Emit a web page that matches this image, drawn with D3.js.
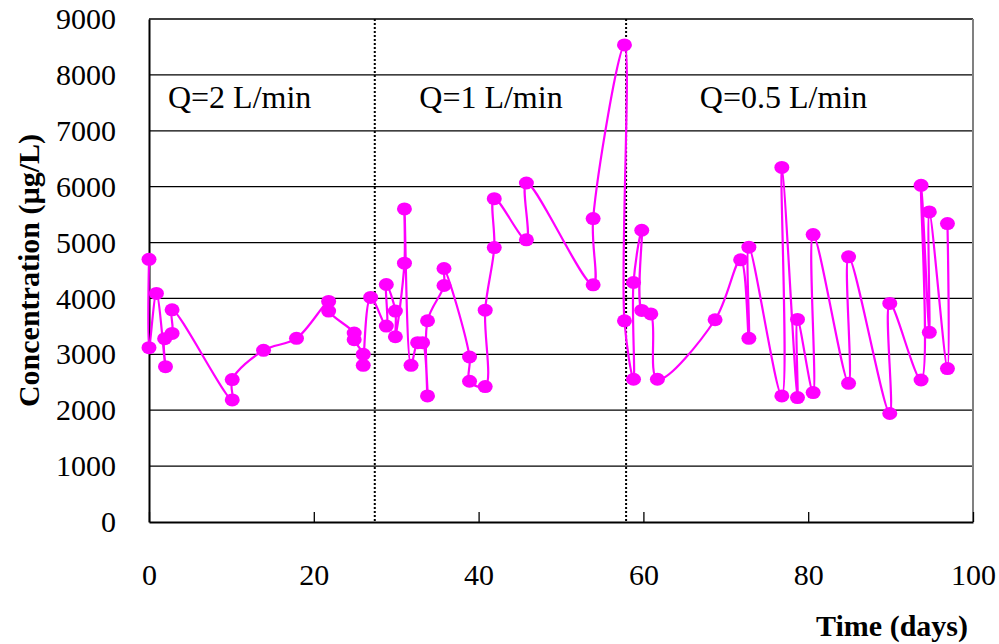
<!DOCTYPE html>
<html>
<head>
<meta charset="utf-8">
<script src="https://cdn.jsdelivr.net/npm/d3@7"></script>
<style>
  body { margin: 0; background: #fff; }
</style>
</head>
<body>
<svg id="chart" width="999" height="644"></svg>
<script>
// sample times (days) and concentrations (ug/L), in the order the line passes through them
const days = [
  0, 0, 0.9, 2, 1.9, 2.8, 2.8, 10.1, 10.1, 13.9, 17.9, 21.8, 21.8, 24.9, 24.9, 26, 26, 26.9,
  28.8, 28.8, 29.9, 29.9, 31, 31, 31.8, 32.6, 33.2, 33.8, 33.8, 35.8, 35.8, 38.9, 38.9, 40.8, 40.8,
  41.9, 41.9, 45.8, 45.8, 53.9, 53.9, 57.7,
  57.7, 58.8, 58.8, 59.8, 59.8, 60.9, 61.7, 68.7, 71.8, 72.8, 72.8, 76.8, 76.8, 78.7, 78.7,
  80.6, 80.6, 84.9, 84.9, 89.9, 89.9, 93.7, 93.7, 94.7, 94.7, 96.9, 96.9
];
const conc = [
  4700, 3120, 4090, 2780, 3280, 3375, 3797, 2184, 2548, 3071, 3286, 3946, 3774, 3380, 3262, 3000, 2804, 4018,
  3506, 4250, 3774, 3315, 4631, 5601, 2804, 3208, 3208, 2256, 3601, 4232, 4536, 2952, 2518, 2423, 3791,
  4911, 5786, 5048, 6066, 4244, 5429, 8536,
  3600, 2554, 4285, 5220, 3786, 3723, 2554, 3619, 4691, 3286, 4917, 2256, 6345, 2226, 3625,
  2315, 5143, 2482, 4744, 1941, 3911, 2541, 6024, 3393, 5548, 2745, 5339
];
// flow-rate changes and period labels
const breaks = [27.4, 57.9];
const periodLabels = ["Q=2 L/min", "Q=1 L/min", "Q=0.5 L/min"];
const periodCenters = [11, 41.5, 77];
const xTicks = [0, 20, 40, 60, 80, 100];
const yTicks = [0, 1000, 2000, 3000, 4000, 5000, 6000, 7000, 8000, 9000];

const serif = "'Liberation Serif', Tinos, 'Times New Roman', Times, serif";
const data = days.map((d, i) => ({ day: d, c: conc[i] }));

const svg = d3.select("#chart");
const margin = { top: 19, right: 26, bottom: 122, left: 149 };
const width = 999, height = 644;

const x = d3.scaleLinear().domain([0, 100]).range([margin.left, width - margin.right]);
const y = d3.scaleLinear().domain([0, 9000]).range([height - margin.bottom, margin.top]);

// gridlines
svg.append("g")
  .selectAll("line")
  .data(yTicks.slice(1))
  .join("line")
  .attr("x1", x(0)).attr("x2", x(100))
  .attr("y1", d => y(d)).attr("y2", d => y(d))
  .attr("stroke", "#000").attr("stroke-width", 1.3);

// right border
svg.append("line")
  .attr("x1", x(100)).attr("x2", x(100))
  .attr("y1", y(9000)).attr("y2", y(0))
  .attr("stroke", "#808080").attr("stroke-width", 2);

// dotted period separators
svg.append("g")
  .selectAll("line")
  .data(breaks)
  .join("line")
  .attr("x1", d => x(d)).attr("x2", d => x(d))
  .attr("y1", y(9000)).attr("y2", y(0))
  .attr("stroke", "#000").attr("stroke-width", 2)
  .attr("stroke-dasharray", "2,2");

// axes
const xAxis = svg.append("g")
  .attr("transform", `translate(0,${y(0)})`)
  .call(d3.axisBottom(x).tickValues(xTicks).tickSizeInner(-10).tickSizeOuter(0).tickPadding(42));
xAxis.select(".domain").attr("stroke-width", 2);
xAxis.selectAll(".tick line").attr("stroke-width", 1.3);
xAxis.selectAll("text").attr("font-size", 30).style("font-family", serif);

const yAxis = svg.append("g")
  .attr("transform", `translate(${x(0)},0)`)
  .call(d3.axisLeft(y).tickValues(yTicks).tickSizeInner(0).tickSizeOuter(0).tickPadding(33).tickFormat(d3.format("d")));
yAxis.select(".domain").attr("stroke-width", 2);
yAxis.selectAll("text").attr("font-size", 30).style("font-family", serif);

// period labels
svg.append("g")
  .selectAll("text")
  .data(periodLabels)
  .join("text")
  .attr("x", (d, i) => x(periodCenters[i]))
  .attr("y", y(7600))
  .attr("text-anchor", "middle")
  .attr("dominant-baseline", "central")
  .attr("font-size", 32)
  .style("font-family", serif)
  .text(d => d);

// series line
svg.append("path")
  .datum(data)
  .attr("fill", "none")
  .attr("stroke", "#ff00ff")
  .attr("stroke-width", 2.2)
  .attr("d", d3.line()
    .x(d => x(d.day))
    .y(d => y(d.c))
    .curve(d3.curveCatmullRom.alpha(0.5)));

// markers
svg.append("g")
  .selectAll("ellipse")
  .data(data)
  .join("ellipse")
  .attr("cx", d => x(d.day))
  .attr("cy", d => y(d.c))
  .attr("rx", 7.5)
  .attr("ry", 6.5)
  .attr("fill", "#ff00ff");

// axis titles
svg.append("text")
  .attr("x", 968)
  .attr("y", 625)
  .attr("text-anchor", "end")
  .attr("dominant-baseline", "central")
  .attr("font-size", 30)
  .attr("font-weight", "bold")
  .style("font-family", serif)
  .text("Time (days)");

svg.append("text")
  .attr("transform", `translate(28,${y(4500)}) rotate(-90)`)
  .attr("text-anchor", "middle")
  .attr("dominant-baseline", "central")
  .attr("font-size", 30)
  .attr("font-weight", "bold")
  .style("font-family", serif)
  .text("Concentration (µg/L)");
</script>
</body>
</html>
